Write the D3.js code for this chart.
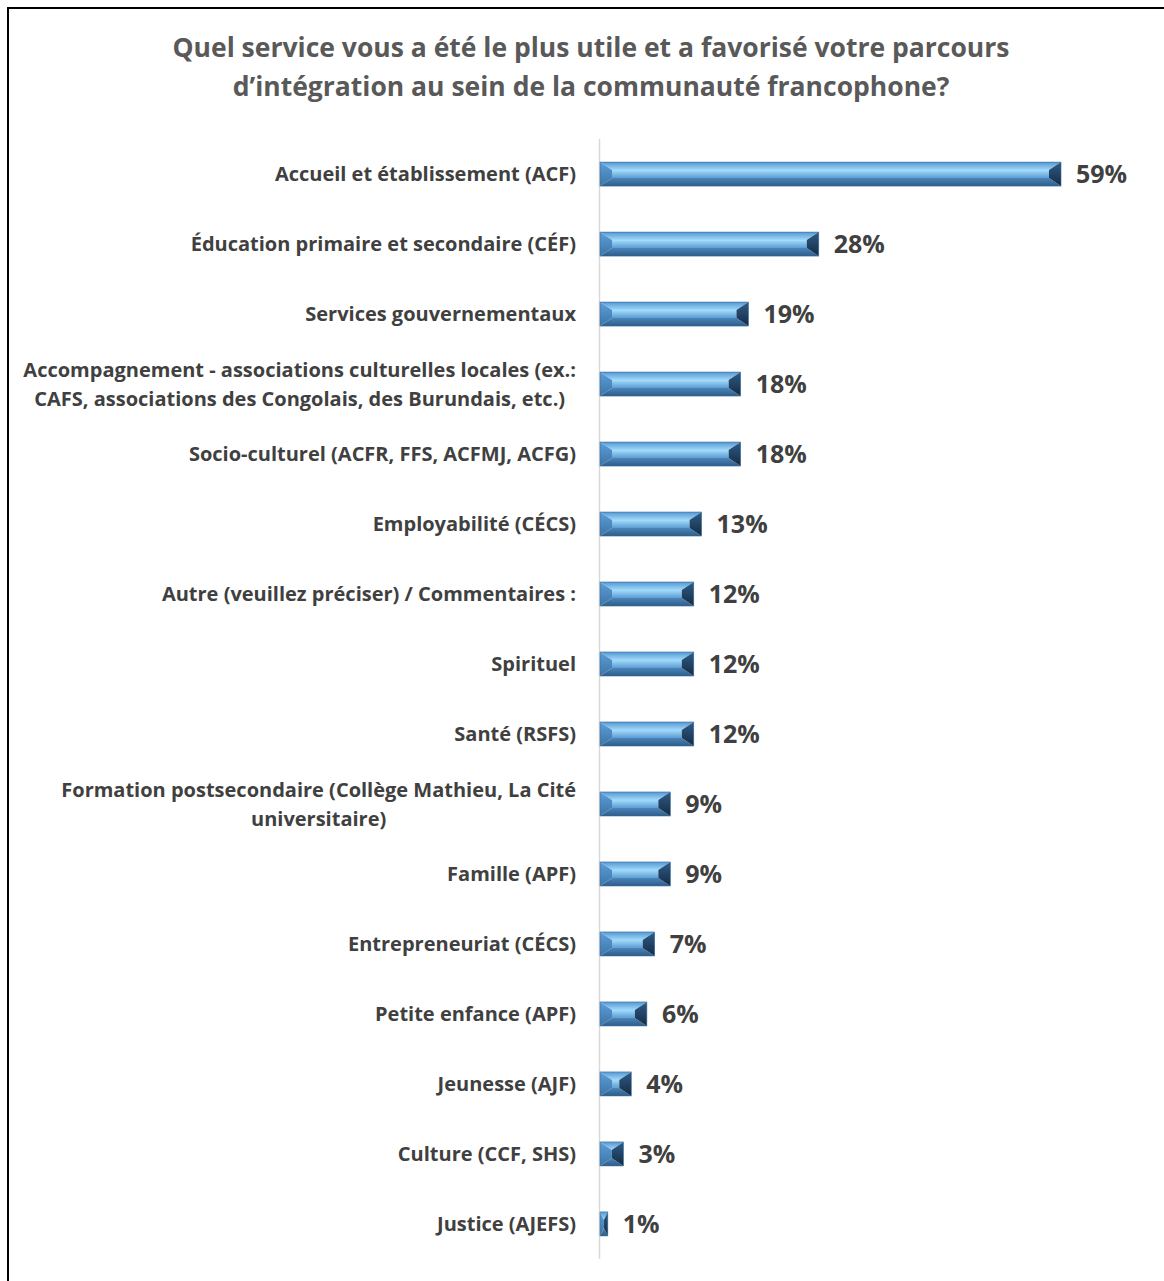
<!DOCTYPE html>
<html><head><meta charset="utf-8">
<script src="https://cdn.jsdelivr.net/npm/d3@7"></script>
<style>body{margin:0;background:#fff}</style>
</head><body>
<svg id="chart" width="1164" height="1281"></svg>
<script>
const titleLines = ["Quel service vous a été le plus utile et a favorisé votre parcours",
  "d’intégration au sein de la communauté francophone?"];
const categories = [
  ["Accueil et établissement (ACF)"],
  ["Éducation primaire et secondaire (CÉF)"],
  ["Services gouvernementaux"],
  ["Accompagnement - associations culturelles locales (ex.:", "CAFS, associations des Congolais, des Burundais, etc.)"],
  ["Socio-culturel (ACFR, FFS, ACFMJ, ACFG)"],
  ["Employabilité (CÉCS)"],
  ["Autre (veuillez préciser) / Commentaires :"],
  ["Spirituel"],
  ["Santé (RSFS)"],
  ["Formation postsecondaire (Collège Mathieu, La Cité", "universitaire)"],
  ["Famille (APF)"],
  ["Entrepreneuriat (CÉCS)"],
  ["Petite enfance (APF)"],
  ["Jeunesse (AJF)"],
  ["Culture (CCF, SHS)"],
  ["Justice (AJEFS)"]
];
const values = [59, 28, 19, 18, 18, 13, 12, 12, 12, 9, 9, 7, 6, 4, 3, 1];
const valueLabels = ["59%","28%","19%","18%","18%","13%","12%","12%","12%","9%","9%","7%","6%","4%","3%","1%"];

const svg = d3.select("#chart");
const font = "'Open Sans', sans-serif";

// border
svg.append("path").attr("d","M8,1290 V8 H1175").attr("fill","none").attr("stroke","#000").attr("stroke-width",2);

// title
svg.append("g").selectAll("text").data(titleLines).join("text")
  .attr("x", 591).attr("y", (d,i)=>57 + i*39)
  .attr("text-anchor","middle").attr("font-family",font).attr("font-weight","bold")
  .attr("font-size",26.5).attr("fill","#595959").text(d=>d);

const x = d3.scaleLinear().domain([0, 59]).range([600, 1061]);
const y = d3.scaleBand().domain(d3.range(categories.length)).range([139, 1259]).paddingInner(0.657).paddingOuter(0.33);

const defs = svg.append("defs");
function grad(id, c0, c1){
  const g = defs.append("linearGradient").attr("id",id).attr("x1",0).attr("y1",0).attr("x2",0).attr("y2",1);
  g.append("stop").attr("offset",0).attr("stop-color",c0);
  g.append("stop").attr("offset",1).attr("stop-color",c1);
}
grad("gTop", "#5597d2", "#9fd9fa");
grad("gFace", "#a3dcfb", "#5b9bd3");
grad("gBot", "#4a84ba", "#2e5d88");
grad("gLeft", "#5c9ed8", "#3d74a6");
grad("gRight", "#2f5b86", "#142b44");

// axis line
svg.append("line").attr("x1",599.5).attr("x2",599.5).attr("y1",139).attr("y2",1259)
  .attr("stroke","#d9d9d9").attr("stroke-width",1.5);

const bars = svg.append("g").selectAll("g").data(values).join("g");
bars.each(function(v,i){
  const g = d3.select(this);
  const x0 = x(0), x1 = x(v), y0 = y(i), h = y.bandwidth(), y1 = y0 + h;
  const bx = Math.min(12, (x1-x0)/2), by = 8;
  const ix0 = x0+bx, ix1 = x1-bx, iy0 = y0+by, iy1 = y1-by;
  const pts = a => a.map(p=>p.join(",")).join(" ");
  g.append("polygon").attr("points", pts([[x0,y0],[x1,y0],[ix1,iy0],[ix0,iy0]])).attr("fill","url(#gTop)");
  g.append("rect").attr("x",ix0).attr("y",iy0).attr("width",Math.max(0,ix1-ix0)).attr("height",iy1-iy0).attr("fill","url(#gFace)");
  g.append("polygon").attr("points", pts([[ix0,iy1],[ix1,iy1],[x1,y1],[x0,y1]])).attr("fill","url(#gBot)");
  g.append("polygon").attr("points", pts([[x0,y0],[ix0,iy0],[ix0,iy1],[x0,y1]])).attr("fill","url(#gLeft)");
  g.append("polygon").attr("points", pts([[x1,y0],[x1,y1],[ix1,iy1],[ix1,iy0]])).attr("fill","url(#gRight)");
  g.append("rect").attr("x",x0).attr("y",y0).attr("width",x1-x0).attr("height",h)
    .attr("fill","none").attr("stroke","#3a6d9c").attr("stroke-width",0.6);
});

// value labels
svg.append("g").selectAll("text").data(values).join("text")
  .attr("x", d=>x(d)+15).attr("y", (d,i)=>y(i)+y.bandwidth()/2)
  .attr("dy","0.36em").attr("font-family",font).attr("font-weight","bold")
  .attr("font-size",25).attr("fill","#404040").text((d,i)=>valueLabels[i]);

// category labels
const labG = svg.append("g");
categories.forEach((lines,i)=>{
  const cy = y(i)+y.bandwidth()/2;
  const lh = 29;
  const t = labG.append("g");
  const texts = lines.map((l,j)=> t.append("text")
    .attr("y", cy + (j - (lines.length-1)/2)*lh).attr("dy","0.36em")
    .attr("font-family",font).attr("font-weight","bold").attr("font-size",20)
    .attr("fill","#404040").text(l));
  const maxW = d3.max(texts, n=>n.node().getComputedTextLength());
  texts.forEach(n=>n.attr("x", 576 - maxW/2).attr("text-anchor","middle"));
});
</script>
</body></html>
